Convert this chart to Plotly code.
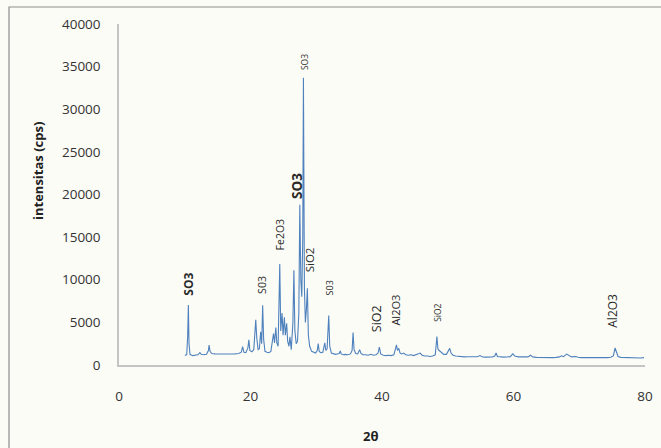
import plotly.graph_objects as go

# 2-theta positions and intensities (cps)
two_theta = [
    10.0, 10.3, 10.45, 10.55, 10.65, 10.8, 11.2, 11.6, 12.0, 12.3, 12.5, 12.9, 13.3, 13.6, 13.7, 13.85,
    14.1, 14.6, 15.2, 15.8, 16.4, 17.0, 17.6, 18.2, 18.6, 18.8, 19.0, 19.3, 19.6, 19.75, 19.9,
    20.2, 20.5, 20.8, 20.95, 21.15, 21.35, 21.55, 21.7, 21.85, 22.0, 22.2, 22.5, 22.8, 23.1, 23.35,
    23.5, 23.65, 23.85, 24.0, 24.2, 24.45, 24.6, 24.8, 24.95, 25.15, 25.3, 25.5, 25.65, 25.85, 26.0,
    26.2, 26.45, 26.6, 26.75, 26.95, 27.15, 27.35, 27.5, 27.65, 27.8, 27.95, 28.05, 28.2, 28.35, 28.5,
    28.65, 28.8, 29.0, 29.3, 29.6, 29.9, 30.15, 30.3, 30.45, 30.7, 31.0, 31.3, 31.45, 31.65, 31.9,
    32.05, 32.3, 32.6, 32.9, 33.2, 33.5, 33.65, 33.8, 34.1, 34.4, 34.8, 35.2, 35.45, 35.6, 35.75,
    36.0, 36.3, 36.6, 36.8, 37.1, 37.5, 37.9, 38.3, 38.7, 39.1, 39.4, 39.6, 39.8, 40.2, 40.6,
    41.0, 41.4, 41.8, 42.05, 42.2, 42.35, 42.55, 42.75, 43.0, 43.3, 43.6, 44.0, 44.4, 44.8, 45.2,
    45.5, 45.8, 46.1, 46.5, 46.9, 47.3, 47.7, 48.1, 48.35, 48.5, 48.7, 48.9, 49.1, 49.4, 49.8,
    50.1, 50.3, 50.5, 50.8, 51.2, 51.6, 52.0, 52.5, 53.0, 53.5, 54.0, 54.5, 54.9, 55.3, 55.8,
    56.3, 56.8, 57.15, 57.35, 57.55, 58.0, 58.5, 59.0, 59.5, 59.9, 60.2, 60.7, 61.2, 61.7, 62.2,
    62.6, 62.9, 63.5, 64.0, 64.5, 65.0, 65.5, 66.0, 66.5, 67.0, 67.3, 67.6, 68.1, 68.4, 68.8,
    69.5, 69.8, 70.3, 70.8, 71.3, 71.8, 72.3, 72.8, 73.3, 73.8, 74.3, 74.8, 75.2, 75.45, 75.65,
    75.9, 76.3, 76.8, 77.3, 77.8, 78.3, 78.8, 79.3, 79.85,
]
intensity = [
    1150, 1200, 3500, 7050, 2500, 1250, 1100, 1150, 1200, 1450, 1250, 1200, 1250, 1700, 2350, 1600,
    1350, 1300, 1280, 1300, 1270, 1290, 1300, 1350, 1500, 2150, 1500, 1450, 2000, 2950, 1700,
    1550, 1800, 5300, 3200, 1800, 1900, 3900, 2500, 7000, 3000, 1600, 1500, 1450, 1600, 2800,
    3700, 2600, 4400, 2600, 2200, 11850, 4000, 6100, 3500, 5600, 3500, 4900, 2800, 2200, 3300,
    1800, 5000, 11100, 4000, 2500, 2800, 6000, 18800, 10000, 8000, 15000, 33700, 9000, 5000, 6500,
    9000, 3500, 2200, 1600, 1500, 1400, 1700, 2500, 1600, 1450, 1500, 2600, 1700, 1900, 5800,
    2200, 1400, 1300, 1250, 1300, 1350, 1650, 1300, 1200, 1250, 1200, 1300, 1700, 3800, 1800,
    1350, 1300, 1800, 1350, 1200, 1200, 1150, 1250, 1150, 1200, 1400, 2100, 1300, 1150, 1100,
    1150, 1100, 1200, 1900, 2350, 1700, 1950, 1400, 1300, 1400, 1200, 1150, 1200, 1100, 1250,
    1350, 1400, 1150, 1050, 1050, 1000, 1050, 1200, 3350, 1900, 1700, 1550, 1400, 1250, 1250,
    1600, 1950, 1400, 1150, 1050, 1000, 980, 950, 970, 940, 930, 960, 1100, 940, 920,
    900, 930, 1050, 1400, 1000, 950, 920, 930, 980, 1300, 1050, 950, 930, 920, 950,
    1150, 950, 900, 880, 890, 870, 880, 860, 900, 950, 1080, 980, 1280, 1100, 950,
    1000, 900, 870, 860, 850, 850, 840, 850, 840, 850, 860, 900, 1100, 2000, 1400,
    1000, 900, 880, 850, 860, 830, 850, 820, 870,
]

# phase labels: text, 2-theta, intensity at label centre, font size, bold
label_text = ["SO3", "S03", "Fe2O3", "SO3", "SO3", "SiO2", "S03", "SiO2", "Al2O3", "SiO2", "Al2O3"]
label_x = [10.55, 21.75, 24.5, 27.1, 28.15, 28.9, 31.95, 39.2, 42.0, 48.5, 75.1]
label_y = [9460, 9400, 15330, 21030, 35540, 12280, 8990, 5460, 6400, 6110, 6340]
label_size = [12, 10.5, 10.5, 13.5, 8.5, 11.5, 9, 12.5, 11, 8.5, 12]
label_bold = [True, False, False, True, False, False, False, False, False, False, False]

x_ticks = [0, 20, 40, 60, 80]
y_ticks = [0, 5000, 10000, 15000, 20000, 25000, 30000, 35000, 40000]

fig = go.Figure()
fig.add_trace(go.Scatter(
    x=two_theta, y=intensity, mode="lines",
    line=dict(color="#4f81bd", width=1.1),
    hoverinfo="skip", showlegend=False,
))

for t, px, py, sz, b in zip(label_text, label_x, label_y, label_size, label_bold):
    fig.add_annotation(
        x=px, y=py, xref="x", yref="y", text=f"<b>{t}</b>" if b else t,
        textangle=-90, showarrow=False, xanchor="center", yanchor="middle",
        font=dict(family="Open Sans", size=sz, color="#2b2b2b"),
    )

fig.add_annotation(x=-0.154, y=0.569, xref="paper", yref="paper",
                   text="<b>intensitas (cps)</b>", textangle=-90, showarrow=False,
                   xanchor="center", yanchor="middle",
                   font=dict(family="Open Sans", size=13, color="#222222"))
fig.add_annotation(x=0.479, y=-0.208, xref="paper", yref="paper",
                   text="<b>2θ</b>", showarrow=False,
                   xanchor="center", yanchor="middle",
                   font=dict(family="Open Sans", size=13, color="#222222"))

# outer frame (left and top edges visible in the reference)
fig.add_shape(type="rect", xref="paper", yref="paper", x0=-0.2091, x1=1.2,
              y0=-0.4, y1=1.0499, line=dict(color="#8c8c8c", width=1.2),
              fillcolor="rgba(0,0,0,0)", layer="above")

fig.update_layout(
    width=661, height=448,
    margin=dict(l=119, r=16, t=24, b=83, autoexpand=False),
    paper_bgcolor="#fcfcf7", plot_bgcolor="#fcfcf7",
    font=dict(family="Open Sans", size=13, color="#333333"),
    xaxis=dict(range=[0, 80], tickvals=x_ticks, ticktext=[str(v) for v in x_ticks],
               showgrid=False, zeroline=False, automargin=False,
               showline=True, linecolor="#c4c4c4", linewidth=1.5,
               ticks="", ticklabelstandoff=18, tickfont=dict(size=13.5, color="#333333")),
    yaxis=dict(range=[0, 40000], tickvals=y_ticks, ticktext=[str(v) for v in y_ticks],
               showgrid=False, zeroline=False, automargin=False,
               showline=True, linecolor="#c4c4c4", linewidth=1.5,
               ticks="", ticklabelstandoff=14, tickfont=dict(size=13.5, color="#333333")),
)

fig.write_html(
    "out.html",
    config={"displayModeBar": False},
    post_script="document.body.style.margin='0';document.body.style.background='#fcfcf7';",
)
